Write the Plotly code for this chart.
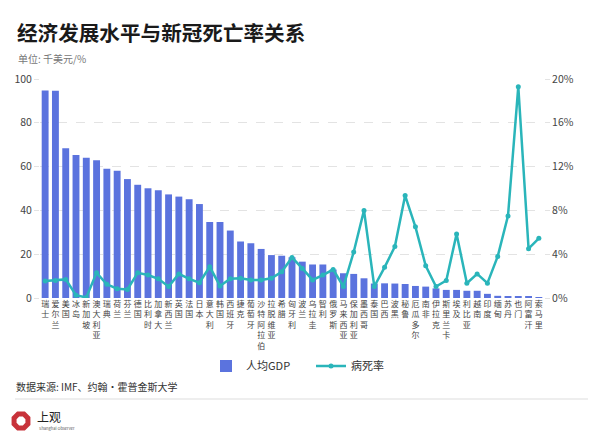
import plotly.graph_objects as go
import math

countries = ["瑞士", "爱尔兰", "美国", "冰岛", "新加坡", "澳大利亚", "瑞典", "荷兰", "芬兰", "德国",
             "比利时", "加拿大", "新西兰", "英国", "法国", "日本", "意大利", "韩国", "西班牙", "捷克",
             "葡萄牙", "沙特阿拉伯", "拉脱维亚", "希腊", "匈牙利", "波兰", "乌拉圭", "智利", "俄罗斯", "马来西亚",
             "保加利亚", "墨西哥", "泰国", "巴西", "波黑", "秘鲁", "厄瓜多尔", "南非", "伊拉克", "斯里兰卡",
             "埃及", "利比亚", "越南", "印度", "缅甸", "苏丹", "也门", "阿富汗", "索马里"]

gdp = [94.8, 94.6, 68.4, 65.3, 64.0, 62.9, 59.0, 58.1, 54.3, 51.7,
       50.1, 49.2, 47.3, 46.3, 45.1, 42.9, 34.7, 34.7, 30.8, 25.8,
       25.0, 22.4, 19.6, 19.3, 18.6, 16.6, 15.3, 15.3, 13.0, 11.3,
       11.0, 9.0, 6.6, 6.7, 6.6, 6.4, 5.5, 5.2, 4.4, 3.7,
       3.7, 3.3, 3.3, 1.9, 1.0, 0.7, 0.8, 0.5, 0.3]

cfr = [1.55, 1.6, 1.7, 0.25, 0.05, 2.3, 1.25, 0.85, 0.78, 2.3,
       2.1, 1.75, 1.05, 2.2, 1.75, 1.4, 2.85, 1.1, 1.75, 1.8,
       1.65, 1.65, 1.8, 2.4, 3.7, 2.7, 1.65, 2.1, 2.6, 1.05,
       4.2, 8.0, 1.05, 2.8, 4.7, 9.35, 6.5, 2.95, 1.05, 1.6,
       5.85, 1.35, 2.2, 1.35, 3.8, 7.5, 19.3, 4.5, 5.45]

labels = ["<br>".join(list(c)) for c in countries]

# page offset (browser body margin)
OFF = 8
W, H = 600, 447
# desired plot area in screen pixels: x 40..544, y 79..298
L = 40 - OFF
T = 79 - OFF
PW = 504
PH = 219
R = W - L - PW
B = H - T - PH


def px(x):
    return (x - OFF - L) / PW


def py(y):
    return (T + PH - (y - OFF)) / PH


FONT = "Noto Sans CJK SC"
BAR_COLOR = "#5B73DE"
LINE_COLOR = "#2AB5BA"

fig = go.Figure()
fig.add_trace(go.Bar(x=labels, y=gdp, name="人均GDP", marker_color=BAR_COLOR,
                     marker_line_width=0, yaxis="y"))
fig.add_trace(go.Scatter(x=labels, y=cfr, name="病死率", mode="lines+markers",
                         line=dict(color=LINE_COLOR, width=2.5),
                         marker=dict(color=LINE_COLOR, size=5), yaxis="y2"))

shapes = [
    dict(type="line", xref="paper", yref="paper", x0=px(15), x1=px(588), y0=py(399), y1=py(399),
         line=dict(color="#DDDDDD", width=1)),
]
cx, cy, r = 21, 421, 7.5
pts = []
for i in range(8):
    a = math.pi / 8 + i * math.pi / 4
    pts.append((px(cx + r * math.cos(a)), py(cy + r * math.sin(a))))
path = "M " + " L ".join(f"{a:.5f},{b:.5f}" for a, b in pts) + " Z"
shapes.append(dict(type="path", xref="paper", yref="paper", path=path,
                   line=dict(color="#C8323A", width=5), fillcolor="rgba(0,0,0,0)"))

annotations = [
    dict(text="<b>经济发展水平与新冠死亡率关系</b>", x=px(15), y=py(32), xref="paper", yref="paper",
         xanchor="left", yanchor="middle", showarrow=False,
         font=dict(family=FONT, size=20.6, color="#1A1A1A")),
    dict(text="单位: 千美元/%", x=px(16), y=py(58), xref="paper", yref="paper",
         xanchor="left", yanchor="middle", showarrow=False,
         font=dict(family=FONT, size=10, color="#777777")),
    dict(text="数据来源: IMF、约翰·霍普金斯大学", x=px(14), y=py(386), xref="paper", yref="paper",
         xanchor="left", yanchor="middle", showarrow=False,
         font=dict(family=FONT, size=10, color="#333333")),
    dict(text="上观", x=px(35), y=py(416), xref="paper", yref="paper",
         xanchor="left", yanchor="middle", showarrow=False,
         font=dict(family=FONT, size=12, color="#222222")),
    dict(text="Shanghai Observer", x=px(37), y=py(428), xref="paper", yref="paper",
         xanchor="left", yanchor="middle", showarrow=False,
         font=dict(family=FONT, size=4, color="#555555")),
]

fig.update_layout(
    width=W, height=H,
    margin=dict(l=L, r=R, t=T, b=B, pad=0, autoexpand=False),
    paper_bgcolor="white", plot_bgcolor="white",
    font=dict(family=FONT, color="#444444"),
    bargap=0.33,
    showlegend=True,
    legend=dict(orientation="h", x=px(206), y=py(366), xanchor="left", yanchor="middle",
                font=dict(family=FONT, size=11, color="#333333"),
                entrywidth=60, entrywidthmode="pixels", bgcolor="rgba(0,0,0,0)"),
    xaxis=dict(type="category", tickmode="array", tickvals=labels, ticktext=labels,
               range=[-0.5, len(countries) - 0.5], autorange=False,
               tickangle=0, tickfont=dict(size=8, color="#444444"),
               showgrid=False, showline=False, ticks="", automargin=False),
    yaxis=dict(range=[0, 100], dtick=20, tickfont=dict(size=10.5, color="#444444"),
               showgrid=True, gridcolor="#E3E3E3", griddash="dash", gridwidth=1,
               zeroline=False, showline=False, ticks="outside", ticklen=5, tickcolor="#E3E3E3",
               automargin=False),
    yaxis2=dict(range=[0, 20], dtick=4, ticksuffix="%", overlaying="y", side="right",
                tickfont=dict(size=10.5, color="#444444"), showgrid=False, zeroline=False,
                showline=False, ticks="outside", ticklen=5, tickcolor="#E3E3E3",
                automargin=False),
    shapes=shapes,
    annotations=annotations,
)

fig.write_html("out.html")
